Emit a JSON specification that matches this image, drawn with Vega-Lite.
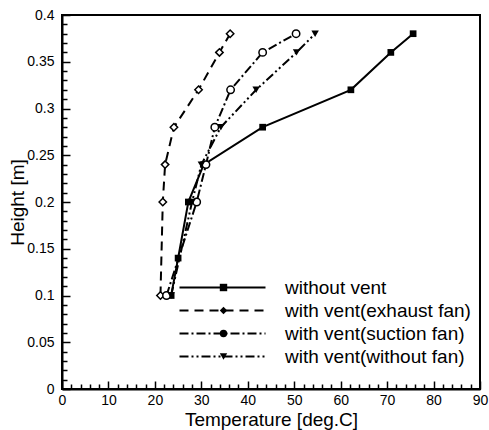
{
  "$schema": "https://vega.github.io/schema/vega-lite/v6.json",
  "width": 418,
  "height": 374,
  "autosize": "none",
  "padding": {"left": 62, "top": 15, "right": 9, "bottom": 41},
  "background": "white",
  "data": {
    "values": [
      {"series": "without vent", "temp": 23.5, "h": 0.1},
      {"series": "without vent", "temp": 25.0, "h": 0.14},
      {"series": "without vent", "temp": 27.2, "h": 0.2},
      {"series": "without vent", "temp": 30.5, "h": 0.24},
      {"series": "without vent", "temp": 43.2, "h": 0.28},
      {"series": "without vent", "temp": 62.2, "h": 0.32},
      {"series": "without vent", "temp": 70.8, "h": 0.36},
      {"series": "without vent", "temp": 75.6, "h": 0.38},
      {"series": "with vent(exhaust fan)", "temp": 21.2, "h": 0.1},
      {"series": "with vent(exhaust fan)", "temp": 21.7, "h": 0.2},
      {"series": "with vent(exhaust fan)", "temp": 22.2, "h": 0.24},
      {"series": "with vent(exhaust fan)", "temp": 24.1, "h": 0.28},
      {"series": "with vent(exhaust fan)", "temp": 29.4, "h": 0.32},
      {"series": "with vent(exhaust fan)", "temp": 33.9, "h": 0.36},
      {"series": "with vent(exhaust fan)", "temp": 36.2, "h": 0.38},
      {"series": "with vent(suction fan)", "temp": 22.5, "h": 0.1},
      {"series": "with vent(suction fan)", "temp": 29.0, "h": 0.2},
      {"series": "with vent(suction fan)", "temp": 31.0, "h": 0.24},
      {"series": "with vent(suction fan)", "temp": 32.9, "h": 0.28},
      {"series": "with vent(suction fan)", "temp": 36.3, "h": 0.32},
      {"series": "with vent(suction fan)", "temp": 43.2, "h": 0.36},
      {"series": "with vent(suction fan)", "temp": 50.4, "h": 0.38},
      {"series": "with vent(without fan)", "temp": 23.5, "h": 0.1},
      {"series": "with vent(without fan)", "temp": 28.0, "h": 0.2},
      {"series": "with vent(without fan)", "temp": 30.0, "h": 0.24},
      {"series": "with vent(without fan)", "temp": 34.2, "h": 0.28},
      {"series": "with vent(without fan)", "temp": 41.8, "h": 0.32},
      {"series": "with vent(without fan)", "temp": 50.5, "h": 0.36},
      {"series": "with vent(without fan)", "temp": 54.5, "h": 0.38}
    ]
  },
  "encoding": {
    "x": {
      "field": "temp", "type": "quantitative",
      "scale": {"domain": [0, 90], "nice": false, "zero": false},
      "axis": {
        "title": "Temperature [deg.C]",
        "values": [0,2,4,6,8,10,12,14,16,18,20,22,24,26,28,30,32,34,36,38,40,42,44,46,48,50,52,54,56,58,60,62,64,66,68,70,72,74,76,78,80,82,84,86,88,90],
        "labelExpr": "datum.value % 10 === 0 ? datum.label : ''",
        "tickSize": {"condition": {"test": "datum.value % 10 === 0", "value": -8}, "value": -5},
        "labelPadding": 12,
        "titlePadding": 0,
        "format": "d"
      }
    },
    "y": {
      "field": "h", "type": "quantitative",
      "scale": {"domain": [0, 0.4], "nice": false},
      "axis": {
        "title": "Height [m]",
        "values": [0,0.01,0.02,0.03,0.04,0.05,0.06,0.07,0.08,0.09,0.1,0.11,0.12,0.13,0.14,0.15,0.16,0.17,0.18,0.19,0.2,0.21,0.22,0.23,0.24,0.25,0.26,0.27,0.28,0.29,0.3,0.31,0.32,0.33,0.34,0.35,0.36,0.37,0.38,0.39,0.4],
        "labelExpr": "abs(datum.value*20 - round(datum.value*20)) < 0.000001 ? datum.label : ''",
        "tickSize": {"condition": {"test": "abs(datum.value*20 - round(datum.value*20)) < 0.000001", "value": -8}, "value": -5},
        "labelPadding": 16,
        "titlePadding": -1,
        "format": "~g"
      }
    }
  },
  "layer": [
    {
      "transform": [{"filter": "datum.series === 'without vent'"}],
      "mark": {"type": "line", "color": "black", "strokeWidth": 2,
        "point": {"shape": "square", "filled": true, "color": "black", "size": 45}}
    },
    {
      "transform": [{"filter": "datum.series === 'with vent(exhaust fan)'"}],
      "mark": {"type": "line", "color": "black", "strokeWidth": 2, "strokeDash": [9, 6],
        "point": {"shape": "diamond", "filled": false, "fill": "white", "stroke": "black", "strokeWidth": 1.5, "size": 55}}
    },
    {
      "transform": [{"filter": "datum.series === 'with vent(suction fan)'"}],
      "mark": {"type": "line", "color": "black", "strokeWidth": 2, "strokeDash": [9, 3, 2, 3],
        "point": {"shape": "circle", "filled": false, "fill": "white", "stroke": "black", "strokeWidth": 1.5, "size": 55}}
    },
    {
      "transform": [{"filter": "datum.series === 'with vent(without fan)'"}],
      "mark": {"type": "line", "color": "black", "strokeWidth": 2, "strokeDash": [9, 3, 2, 3, 2, 3],
        "point": {"shape": "triangle-down", "filled": true, "color": "black", "size": 55}}
    },
    {
      "mark": {"type": "point", "filled": false, "color": "black", "size": 0, "strokeWidth": 0},
      "encoding": {
        "strokeDash": {
          "field": "series", "type": "nominal",
          "scale": {
            "domain": ["without vent", "with vent(exhaust fan)", "with vent(suction fan)", "with vent(without fan)"],
            "range": [[1, 0], [9, 6], [9, 3, 2, 3], [9, 3, 2, 3, 2, 3]]
          },
          "legend": {
            "title": null, "orient": "none", "legendX": 151, "legendY": 263,
            "symbolType": "M-8.6,0L8.6,0",
            "symbolSize": 100, "symbolStrokeWidth": 2, "symbolOpacity": 1,
            "symbolStrokeColor": "black",
            "labelFont": "Liberation Sans", "labelFontSize": 19, "labelColor": "black",
            "labelOffset": 53, "rowPadding": 3, "labelLimit": 400,
            "encode": {"symbols": {"stroke": {"value": "black"}, "fill": {"value": "transparent"}, "strokeWidth": {"value": 2}, "opacity": {"value": 1}, "strokeOpacity": {"value": 1}}}
          }
        }
      }
    },
    {
      "mark": {"type": "point", "filled": true, "color": "black", "size": 0},
      "encoding": {
        "shape": {
          "field": "series", "type": "nominal",
          "sort": ["without vent", "with vent(exhaust fan)", "with vent(suction fan)", "with vent(without fan)"],
          "scale": {"range": ["square", "diamond", "circle", "triangle-down"]},
          "legend": {
            "title": null, "orient": "none", "legendX": 152, "legendY": 263,
            "symbolSize": 55, "symbolStrokeWidth": 1.5, "symbolOpacity": 1,
            "symbolFillColor": "black", "symbolStrokeColor": "black",
            "labelFont": "Liberation Sans", "labelFontSize": 19, "labelColor": "transparent",
            "labelOffset": 53, "rowPadding": 3, "labelLimit": 400
          }
        }
      }
    }
  ],
  "config": {
    "view": {"stroke": "black", "strokeWidth": 2},
    "axis": {
      "domainColor": "black", "domainWidth": 2,
      "tickColor": "black", "tickWidth": 1.5,
      "grid": false,
      "labelFont": "Liberation Sans", "labelFontSize": 14, "labelColor": "black",
      "titleFont": "Liberation Sans", "titleFontSize": 19, "titleFontWeight": "normal", "titleColor": "black",
      "labelFlush": false, "labelOverlap": false
    }
  }
}
